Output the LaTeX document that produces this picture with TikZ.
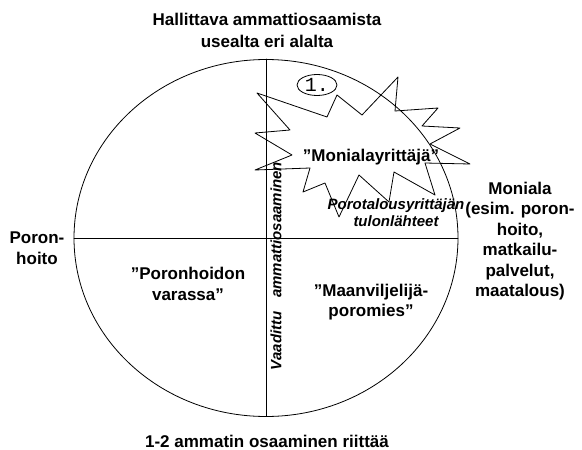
\documentclass[tikz,border=0pt]{standalone}
\usepackage{fontspec}
\setmainfont{Liberation Sans}
\setmonofont{Liberation Mono}
\usetikzlibrary{shapes.geometric}
\begin{document}
\begin{tikzpicture}[x=1pt,y=-1pt,font=\fontsize{17}{20.5}\selectfont\bfseries,line width=0.8pt,line join=round,line cap=round,
lbl/.style={align=center,inner sep=0pt},
sublbl/.style={lbl,font=\fontsize{15}{17}\selectfont\bfseries\itshape}]
\useasboundingbox (0,0) rectangle (582,450);
\path
(266,238) coordinate (M)
(74,238) coordinate (W)
(458,238) coordinate (E)
(266,59) coordinate (N)
(266,416) coordinate (S)
;
\draw (M) ellipse [x radius=192pt, y radius=178.5pt];
\draw (W) -- (E) (N) -- (S);
\draw (257,93) -- (327,117) -- (337,95) -- (362,115) -- (398,77) -- (395,111) -- (438,108) -- (422,126)
-- (460,128) -- (430,144) -- (470,164) -- (425,163) -- (435,195) -- (394,172) -- (389,202) -- (359,175)
-- (339,217) -- (325,183) -- (303,192) -- (310,168) -- (255,170) -- (292,155) -- (255,133) -- (290,130) -- cycle;
\node[draw,ellipse,minimum width=40pt,minimum height=21pt,inner sep=0pt,font=\mdseries\ttfamily\fontsize{20}{20}\selectfont] (nr) at (317,85) {1.};
\node[lbl,font=\fontsize{17}{22}\selectfont\bfseries] (ylos) at (267,30) {Hallittava ammattiosaamista\\usealta eri alalta};
\node[lbl] (alas) at (267,441) {1-2 ammatin osaaminen riittää};
\node[lbl] (vasen) at (37,248) {Poron-\\hoito};
\node[lbl] (oikea) at (520,241) {Moniala\\(esim. poron-\\hoito,\\matkailu-\\palvelut,\\maatalous)};
\node[lbl] (moni) at (371,157) {”Monialayrittäjä”};
\node[sublbl] (tulo) at (396,213) {Porotalousyrittäjän\\tulonlähteet};
\node[lbl] (poro) at (188,284) {”Poronhoidon\\varassa”};
\node[lbl] (maan) at (371,302) {”Maanviljelijä-\\poromies”};
\node[sublbl,rotate=90,anchor=north] (vaad) at (270,266) {Vaadittu\hspace{0.9em}ammattiosaaminen};
\end{tikzpicture}
\end{document}
